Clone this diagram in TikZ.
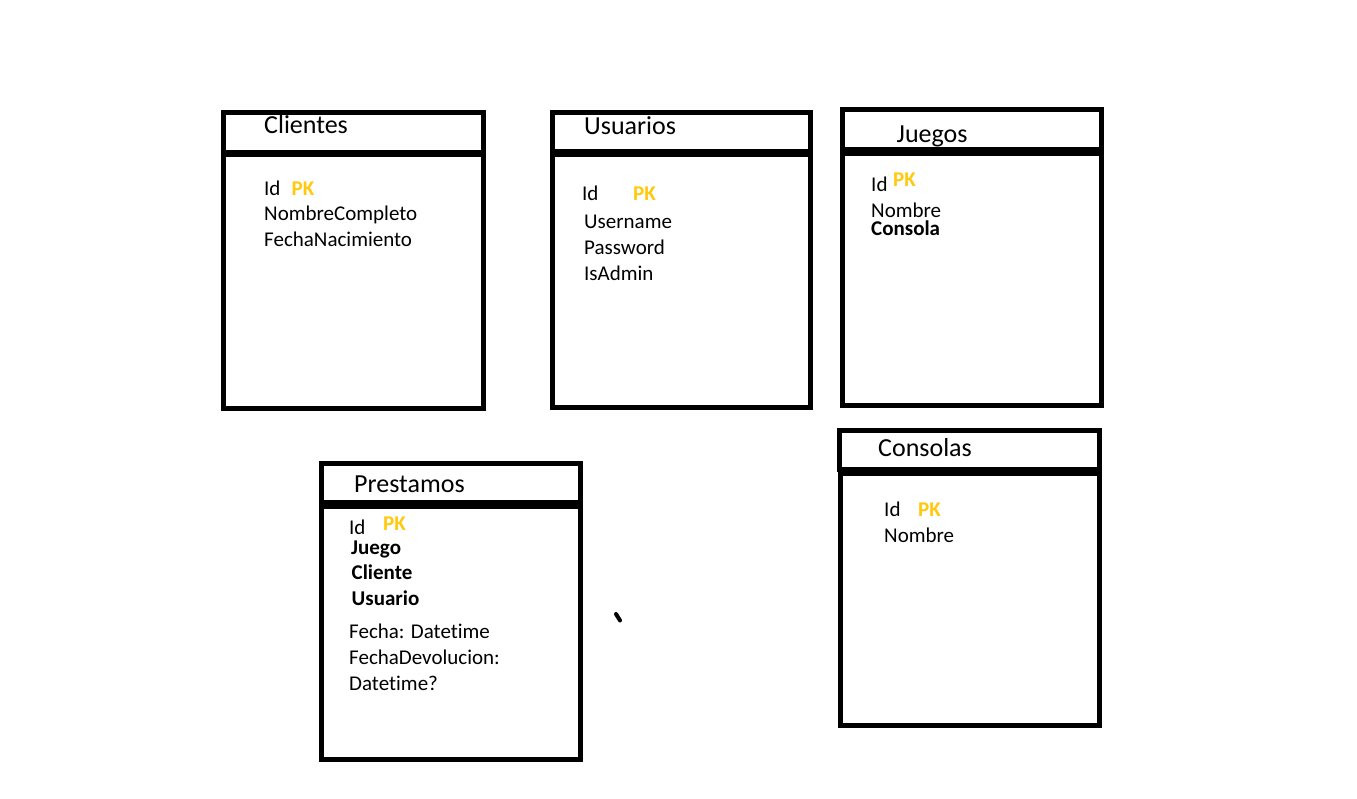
\documentclass[tikz,border=0pt]{standalone}
\usepackage{fontspec}
\setmainfont{Carlito}[Ligatures={NoCommon}]
\usepackage{tikz}
\usetikzlibrary{positioning}
\usepackage{xcolor}
\definecolor{pkgold}{RGB}{255,201,14}
\tikzset{
  tblline/.style={draw, line width=5pt, line join=miter},
  ttl/.style    ={anchor=base west, inner sep=0pt, font=\fontsize{26}{30}\selectfont},
  fld/.style    ={anchor=base west, inner sep=0pt, font=\fontsize{21}{25}\selectfont},
  fkey/.style   ={fld, font=\fontsize{21}{25}\selectfont\bfseries},
  pkey/.style   ={fld, font=\fontsize{21}{25}\selectfont\bfseries, text=pkgold},
}

\begin{document}
\begin{tikzpicture}[x=1pt, y=-1pt]
  \useasboundingbox (0,0) rectangle (1357,799);
  % Clientes
  \draw[tblline] (223.5,112.5) rectangle (483,152.5);
  \draw[tblline] (223.5,155) rectangle (483,408);
  \node[ttl] (clititle) at (264,134) {Clientes};
  \node[fld] (cliid) at (264,196) {Id};
  \node[pkey] (clipk) at (291.5,196) {PK};
  \node[fld] (clinom) at (264,221) {NombreCompleto};
  \node[fld] (clifec) at (264,247) {FechaNacimiento};
  % Usuarios
  \draw[tblline] (552.5,112.5) rectangle (810.5,152);
  \draw[tblline] (552.5,155) rectangle (810.5,407.5);
  \node[ttl] (usutitle) at (584,135) {Usuarios};
  \node[fld] (usuid) at (582,201) {Id};
  \node[pkey] (usupk) at (633,201) {PK};
  \node[fld] (usuname) at (584,229) {Username};
  \node[fld] (usupass) at (584,254.5) {Password};
  \node[fld] (usuadm) at (584,280.5) {IsAdmin};
  % Juegos
  \draw[tblline] (842.5,110) rectangle (1101.5,149.5);
  \draw[tblline] (842.5,153.5) rectangle (1101.5,405.5);
  \node[ttl] (juetitle) at (896.5,143) {Juegos};
  \node[fld] (jueid) at (871,192) {Id};
  \node[pkey] (juepk) at (893,187) {PK};
  \node[fld] (juenom) at (871,218) {Nombre};
  \node[fkey] (juecon) at (871,236) {Consola};
  % Consolas
  \draw[tblline] (839.5,430.5) rectangle (1099,469.5);
  \draw[tblline] (840.5,473) rectangle (1099,725.5);
  \node[ttl] (contitle) at (878,456) {Consolas};
  \node[fld] (conid) at (884,516) {Id};
  \node[pkey] (conpk) at (918,516) {PK};
  \node[fld] (connom) at (884,542) {Nombre};
  % Prestamos
  \draw[tblline] (321.5,463.5) rectangle (580,502.5);
  \draw[tblline] (321.5,506) rectangle (580,759.5);
  \node[ttl] (pretitle) at (354,492) {Prestamos};
  \node[fld] (preid) at (349,534) {Id};
  \node[pkey] (prepk) at (383,530) {PK};
  \node[fkey] (prejue) at (351,554) {Juego};
  \node[fkey] (precli) at (351.5,579.5) {Cliente};
  \node[fkey] (preusu) at (351.5,605.5) {Usuario};
  \node[fld] (prefec) at (349,638) {Fecha: Datetime};
  \node[fld] (predev) at (349,664) {FechaDevolucion:};
  \node[fld] (predt) at (349,690) {Datetime?};
  % stray pen mark
  \draw[line width=4pt, line cap=round] (616,614) -- (620,620.5);
\end{tikzpicture}
\end{document}
